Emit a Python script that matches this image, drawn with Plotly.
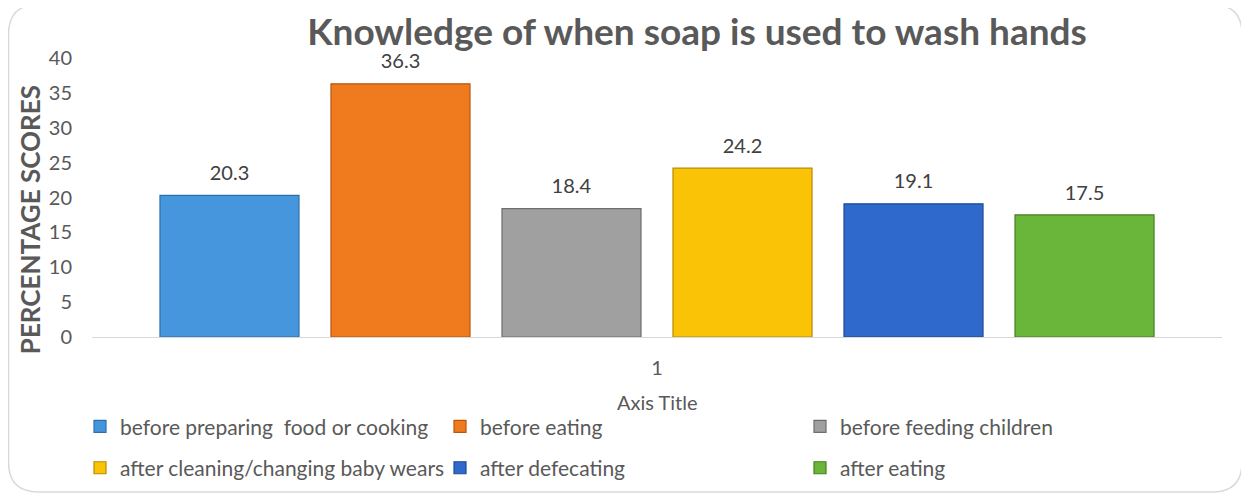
import plotly.graph_objects as go

# data
categories = ["1"]
series_names = [
    "before preparing  food or cooking",
    "before eating",
    "before feeding children",
    "after cleaning/changing baby wears",
    "after defecating",
    "after eating",
]
series_values = [20.3, 36.3, 18.4, 24.2, 19.1, 17.5]
series_colors = ["#4596DC", "#F07A1E", "#A0A0A0", "#FAC305", "#2F69CC", "#69B63A"]
edge_colors = ["#2F6FA8", "#B8560F", "#6E6E6E", "#B88A00", "#1F4A93", "#44801F"]
y_ticks = [0, 5, 10, 15, 20, 25, 30, 35, 40]

FONT = "Lato"
GREY = "#595959"

fig = go.Figure()
for i, (name, val) in enumerate(zip(series_names, series_values)):
    fig.add_trace(go.Bar(
        x=categories, y=[val], name=name,
        marker=dict(color=series_colors[i], line=dict(color=edge_colors[i], width=1.2)),
        # small trailing line lifts the label a bit above the bar, like excel
        text=[f"<span style='font-size:20px'>{val}</span><br>&nbsp;"],
        textposition="outside", cliponaxis=False,
        textfont=dict(family=FONT, size=8, color="#404040"),
        legend="legend" if i < 3 else "legend2",
    ))

# page has an 8px body margin, so the figure is 8px smaller than the window
W, H = 1241, 493
L, R, T, B = 84, 27, 50, 160
pw, ph = W - L - R, H - T - B

def px_x(x):
    return (x - L) / pw

def px_y(y):
    return (H - B - y) / ph

legend_style = dict(
    orientation="h", xanchor="left", yanchor="middle",
    font=dict(family=FONT, size=21, color=GREY),
    entrywidth=315, entrywidthmode="pixels", bgcolor="rgba(0,0,0,0)",
    traceorder="normal",
)

fig.update_layout(
    width=W, height=H,
    margin=dict(l=L, r=R, t=T, b=B),
    paper_bgcolor="white", plot_bgcolor="white",
    barmode="group", bargap=0.092, bargroupgap=0.187,
    font=dict(family=FONT, color=GREY),
    title=dict(text="<b>Knowledge of when soap is used to wash hands</b>",
               x=689 / W, xref="container", xanchor="center",
               y=1 - 24 / H, yref="container", yanchor="middle",
               font=dict(family=FONT, size=37, color=GREY)),
    legend=dict(x=px_x(72), y=px_y(424), **legend_style),
    legend2=dict(x=px_x(72), y=px_y(466), **legend_style),
    xaxis=dict(type="category", showline=True, linecolor="#D9D9D9", linewidth=1,
               ticks="", showgrid=False, ticklabelstandoff=13,
               tickfont=dict(family=FONT, size=20, color=GREY)),
    yaxis=dict(range=[0, 40], tickvals=y_ticks, showgrid=False, zeroline=False,
               showline=False, ticks="", ticklabelstandoff=19,
               tickfont=dict(family=FONT, size=20, color=GREY)),
    annotations=[
        dict(text="<b>PERCENTAGE SCORES</b>", textangle=-90, showarrow=False,
             xref="paper", yref="paper", x=px_x(21.5), y=px_y(214),
             xanchor="center", yanchor="middle",
             font=dict(family=FONT, size=26, color=GREY)),
        dict(text="Axis Title", showarrow=False, xref="paper", yref="paper",
             x=px_x(649), y=px_y(399), xanchor="center", yanchor="middle",
             font=dict(family=FONT, size=20, color=GREY)),
    ],
    shapes=[dict(type="path", xref="paper", yref="paper",
                 xsizemode="pixel", ysizemode="pixel", xanchor=0, yanchor=0,
                 path="M -53.5 332.5 L 1120 332.5 Q 1150 332.5 1150 302.5 L 1150 -125 "
                      "Q 1150 -155 1120 -155 L -53.5 -155 Q -83.5 -155 -83.5 -125 "
                      "L -83.5 302.5 Q -83.5 332.5 -53.5 332.5 Z",
                 line=dict(color="#D9D9D9", width=1.5), layer="below")],
)

fig.write_html("out.html")
